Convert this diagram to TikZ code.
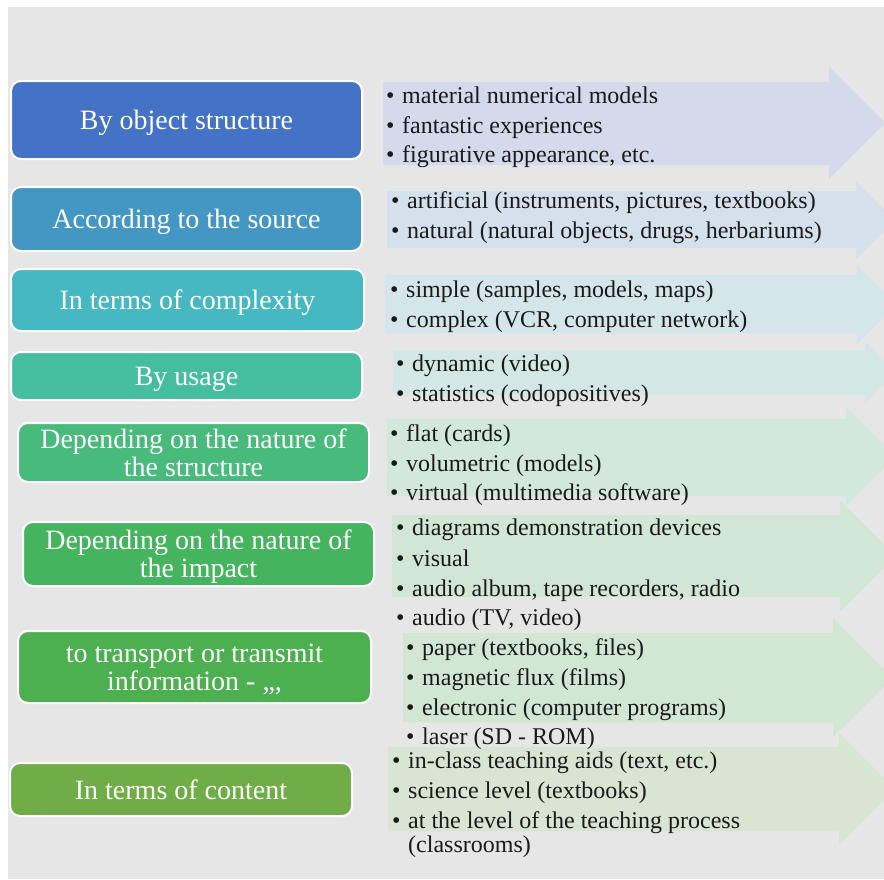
\documentclass[tikz,border=0pt]{standalone}
\usepackage{fontspec}
\setmainfont{Liberation Serif}
\definecolor{bg}{HTML}{E6E6E6}
\definecolor{cA}{HTML}{4472C4}
\definecolor{cB}{HTML}{4497C3}
\definecolor{cC}{HTML}{45B8C2}
\definecolor{cD}{HTML}{45BEA0}
\definecolor{cE}{HTML}{48BA7C}
\definecolor{cF}{HTML}{45B45E}
\definecolor{cG}{HTML}{4CAF50}
\definecolor{cH}{HTML}{70AD47}
\definecolor{aA}{HTML}{D5D9EC}
\definecolor{aB}{HTML}{D4E0EB}
\definecolor{aC}{HTML}{D4E6E9}
\definecolor{aD}{HTML}{D3E7E4}
\definecolor{aE}{HTML}{D2E7DD}
\definecolor{aF}{HTML}{D2E6D6}
\definecolor{aG}{HTML}{D2E6D4}
\definecolor{aH}{HTML}{D9E5D3}
\definecolor{txt}{HTML}{1A1A1A}
\newcommand\bul{\makebox[16pt][l]{\textbullet}}
\newcommand\bigarrow[8]{%
  \fill[#8] (#1,#3) -- (#2,#3) -- (#2,#5) -- ({#2+(#6-#5)/2},{(#5+#6)/2}) -- (#2,#6) -- (#2,#4) -- (#1,#4) -- cycle;}
\tikzset{
  catbox/.style={draw=white, line width=2pt, rounded corners=10pt, text=white,
    font=\fontsize{28}{28}\selectfont, align=center, inner sep=0pt, text depth=0pt},
  itemtext/.style={anchor=base west, inner sep=0pt, text=txt,
    font=\fontsize{24}{30}\selectfont}
}
\begin{document}
\begin{tikzpicture}[x=1pt,y=-1pt]
\useasboundingbox (0,0) rectangle (884,879);
\fill[white] (0,0) rectangle (884,879);
\fill[bg] (8,7) rectangle (884,879);

% arrows
\bigarrow{383}{829}{82}{165}{67}{179}{}{aA}
\bigarrow{387}{856}{191}{248}{182}{259}{}{aB}
\bigarrow{385}{857}{275}{333}{265}{344}{}{aC}
\bigarrow{393}{865}{350}{395}{342}{403}{}{aD}
\bigarrow{387}{846}{419}{496}{407}{506}{}{aE}
\bigarrow{392}{840}{515}{597}{500}{612}{}{aF}
\bigarrow{403}{833}{633}{722}{618}{737}{}{aG}
\bigarrow{388}{839}{747}{831}{733}{845}{}{aH}

% category boxes
\node[catbox, fill=cA, minimum width=351pt, minimum height=78pt] (b1) at (186.5,120) {By object structure};
\node[catbox, fill=cB, minimum width=351pt, minimum height=64pt] (b2) at (186.5,219) {According to the source};
\node[catbox, fill=cC, minimum width=353pt, minimum height=62pt] (b3) at (187.5,300) {In terms of complexity};
\node[catbox, fill=cD, minimum width=351pt, minimum height=48pt] (b4) at (186.5,376) {By usage};
\node[catbox, fill=cE, minimum width=351pt, minimum height=59pt] (b5) at (193.5,452.5) {Depending on the nature of\\the structure};
\node[catbox, fill=cF, minimum width=351pt, minimum height=64pt] (b6) at (198.5,554) {Depending on the nature of\\the impact};
\node[catbox, fill=cG, minimum width=353pt, minimum height=72pt] (b7) at (194.5,667) {to transport or transmit\\information - ,,,};
\node[catbox, fill=cH, minimum width=342pt, minimum height=53pt] (b8) at (181,789.5) {In terms of content};

% items
\node[itemtext] (t11) at (386,103) {\bul material numerical models};
\node[itemtext] (t12) at (386,133) {\bul fantastic experiences};
\node[itemtext] (t13) at (386,162) {\bul figurative appearance, etc.};

\node[itemtext] (t21) at (391,208) {\bul artificial (instruments, pictures, textbooks)};
\node[itemtext] (t22) at (391,238) {\bul natural (natural objects, drugs, herbariums)};

\node[itemtext] (t31) at (390,297) {\bul simple (samples, models, maps)};
\node[itemtext] (t32) at (390,327) {\bul complex (VCR, computer network)};

\node[itemtext] (t41) at (396,371) {\bul dynamic (video)};
\node[itemtext] (t42) at (396,401) {\bul statistics (codopositives)};

\node[itemtext] (t51) at (390,441) {\bul flat (cards)};
\node[itemtext] (t52) at (390,471) {\bul volumetric (models)};
\node[itemtext] (t53) at (390,500) {\bul virtual (multimedia software)};

\node[itemtext] (t61) at (396,535) {\bul diagrams demonstration devices};
\node[itemtext] (t62) at (396,566) {\bul visual};
\node[itemtext] (t63) at (396,596) {\bul audio album, tape recorders, radio};
\node[itemtext] (t64) at (396,625) {\bul audio (TV, video)};

\node[itemtext] (t71) at (406,655) {\bul paper (textbooks, files)};
\node[itemtext] (t72) at (406,685) {\bul magnetic flux (films)};
\node[itemtext] (t73) at (406,715) {\bul electronic (computer programs)};
\node[itemtext] (t74) at (406,744) {\bul laser (SD - ROM)};

\node[itemtext] (t81) at (392,768) {\bul in-class teaching aids (text, etc.)};
\node[itemtext] (t82) at (392,798) {\bul science level (textbooks)};
\node[itemtext] (t83) at (392,828) {\bul at the level of the teaching process};
\node[itemtext] (t84) at (392,852) {\makebox[16pt]{}(classrooms)};
\end{tikzpicture}
\end{document}
